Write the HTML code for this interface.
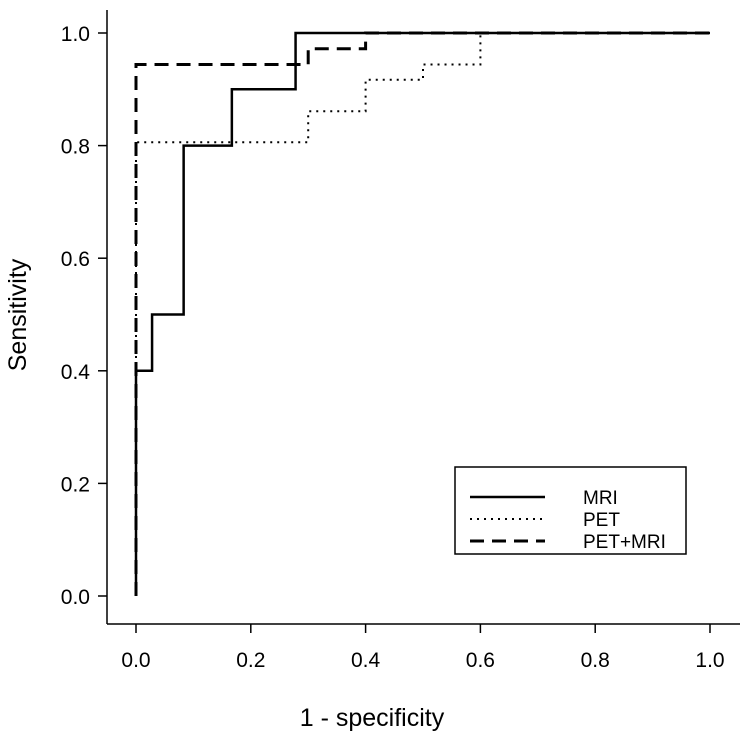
<!DOCTYPE html>
<html><head><meta charset="utf-8"><style>
body{margin:0;background:#fff}
svg{display:block;font-family:"Liberation Sans",Arial,sans-serif}
</style></head><body>
<svg id="chart" width="744" height="736">
<g id="axes"></g>
<g id="series"></g>
<g>
<rect x="455" y="467" width="231" height="87" fill="#fff" stroke="#000" stroke-width="1.5"/>
<line x1="470" y1="497" x2="545" y2="497" stroke="#000" stroke-width="2.5"/>
<text x="583" y="504" font-size="19">MRI</text>
<line x1="470" y1="519" x2="545" y2="519" stroke="#000" stroke-width="2" stroke-dasharray="2,5"/>
<text x="583" y="526" font-size="19">PET</text>
<line x1="470" y1="541" x2="545" y2="541" stroke="#000" stroke-width="3" stroke-dasharray="14,8"/>
<text x="583" y="548" font-size="19">PET+MRI</text>
</g>
<text x="372" y="726" font-size="25" text-anchor="middle">1 - specificity</text>
<text transform="translate(26,315) rotate(-90)" font-size="25" text-anchor="middle">Sensitivity</text>
</svg>
<script>
const xTicks=[0,0.2,0.4,0.6,0.8,1.0];
const yTicks=[0,0.2,0.4,0.6,0.8,1.0];
const mriX=[0,0,0.028,0.028,0.083,0.083,0.167,0.167,0.278,0.278,1];
const mriY=[0,0.4,0.4,0.5,0.5,0.8,0.8,0.9,0.9,1,1];
const petX=[0,0,0.3,0.3,0.4,0.4,0.5,0.5,0.6,0.6,1];
const petY=[0,0.806,0.806,0.861,0.861,0.917,0.917,0.944,0.944,1,1];
const comboX=[0,0,0.3,0.3,0.4,0.4,1];
const comboY=[0,0.944,0.944,0.972,0.972,1,1];
const NS="http://www.w3.org/2000/svg";
const sx=v=>136+v*574, sy=v=>596-v*563;
const axes=document.getElementById('axes'), series=document.getElementById('series');
function mk(tag,attrs,parent){const e=document.createElementNS(NS,tag);for(const k in attrs)e.setAttribute(k,attrs[k]);parent.appendChild(e);return e;}
const xl=mk('line',{x1:107,y1:624,x2:740,y2:624,stroke:'#000','stroke-width':1.5},axes);


const yl=mk('line',{x1:107,y1:10,x2:107,y2:624,stroke:'#000','stroke-width':1.5},axes);


xTicks.forEach(t=>{
 const l=mk('line',{x1:sx(t),y1:624,x2:sx(t),y2:633,stroke:'#000','stroke-width':1.5},axes);
 
 
 const tx=mk('text',{x:sx(t),y:667,'font-size':21,'text-anchor':'middle'},axes);tx.textContent=t.toFixed(1);
 
 
});
yTicks.forEach(t=>{
 const l=mk('line',{x1:98,y1:sy(t),x2:107,y2:sy(t),stroke:'#000','stroke-width':1.5},axes);
 
 
 const tx=mk('text',{x:90,y:sy(t)+8,'font-size':21,'text-anchor':'end'},axes);tx.textContent=t.toFixed(1);
 
 
});
function line(xs,ys,attrs,name){
 const p=mk('polyline',Object.assign({points:xs.map((x,i)=>sx(x)+','+sy(ys[i])).join(' '),fill:'none',stroke:'#000'},attrs),series);
 
 
}
line(petX,petY,{'stroke-width':2,'stroke-dasharray':'2,5'},'pet-curve');
line(comboX,comboY,{'stroke-width':3,'stroke-dasharray':'14,8'},'petmri-curve');
line(mriX,mriY,{'stroke-width':2.5},'mri-curve');
</script>
</body></html>
